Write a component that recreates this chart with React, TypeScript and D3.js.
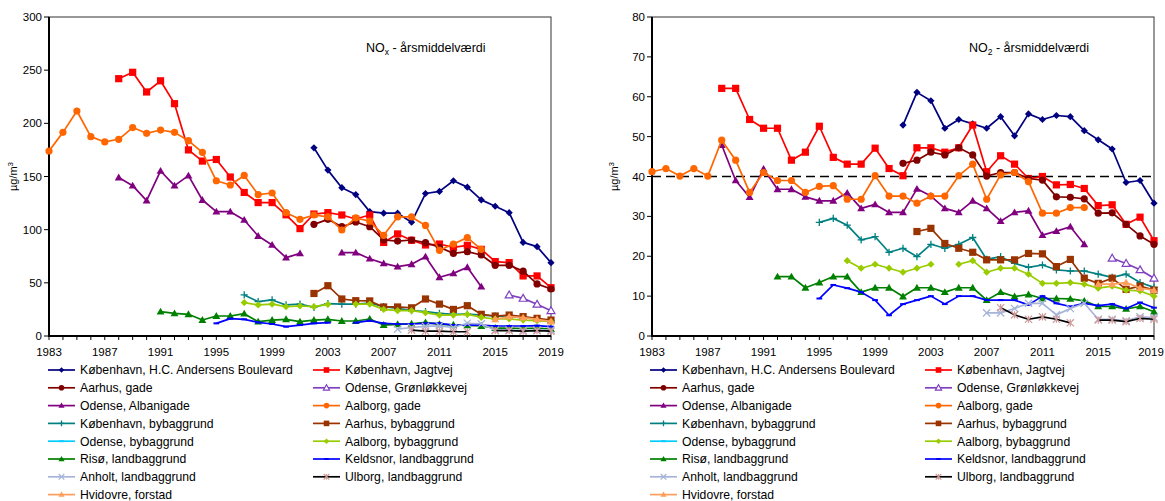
import React from 'react';
import * as d3 from 'd3';

// series (order = drawing order = legend order, row by row)
const seriesNames = [
  'København, H.C. Andersens Boulevard',
  'København, Jagtvej',
  'Aarhus, gade',
  'Odense, Grønløkkevej',
  'Odense, Albanigade',
  'Aalborg, gade',
  'København, bybaggrund',
  'Aarhus, bybaggrund',
  'Odense, bybaggrund',
  'Aalborg, bybaggrund',
  'Risø, landbaggrund',
  'Keldsnor, landbaggrund',
  'Anholt, landbaggrund',
  'Ulborg, landbaggrund',
  'Hvidovre, forstad',
];
const lineColors = ['#000080', '#FF0000', '#800000', '#7F3FBF', '#800080', '#FF6600', '#008080', '#993300', '#00CCFF', '#99CC00', '#008000', '#0000FF', '#A6B4D8', '#000000', '#FF9E5A'];
const markerColors = ['#000080', '#FF0000', '#800000', '#7F3FBF', '#800080', '#FF6600', '#008080', '#993300', '#00CCFF', '#99CC00', '#008000', '#0000FF', '#A6B4D8', '#D09A9A', '#FF9E5A'];
const markerShapes = ['diamond', 'square', 'circle', 'triangleOpen', 'triangle', 'circle', 'plus', 'square', 'dash', 'diamond', 'triangle', 'dash', 'times', 'star', 'triangle'];

const xTickLabels = ['1983', '1987', '1991', '1995', '1999', '2003', '2007', '2011', '2015', '2019'];
const noxTicks = [0, 50, 100, 150, 200, 250, 300];
const no2Ticks = [0, 10, 20, 30, 40, 50, 60, 70, 80];

// NOx, first year of each series
const noxStart = [2002, 1988, 2002, 2016, 1988, 1983, 1997, 2002, 2019, 1997, 1991, 1995, 2008, 2009, 2015];
const noxHCAB = [177, 156, 139.5, 133, 117, 115.5, 115.5, 107, 134, 136, 146, 140, 128, 122, 116, 88, 84, 69];
const noxJagtvej = [242, 248, 229.5, 240, 218.5, 175, 164.5, 166, 149.5, 135, 125.5, 125.5, 114, 101, 114.7, 116, 113.8, 110, 113.8, 88, 96, 90, 85.6, 86.5, 83.4, 85.3, 81.5, 70, 69, 56.5, 56.5, 45.4];
const noxAarhusGade = [105, 109.7, 102.8, 107.2, 102.8, 90.3, 89.3, 90.3, 87.8, 83.4, 77.7, 79.3, 76.2, 66.5, 66.5, 61, 49, 44.2];
const noxGronlokke = [38.6, 35.4, 29.8, 23.8];
const noxAlbani = [149, 141.4, 127.3, 155.2, 141.4, 150.8, 127.9, 116.9, 116.9, 109.1, 94, 85.6, 73.7, 77.7, null, null, 78.4, 78.4, 72.7, 68.3, 65.2, 67.4, 74.6, 55.2, 58.9, 64.6, 46.4];
const noxAalborgGade = [174, 191.5, 211.6, 187.5, 182.5, 185, 196, 190.6, 193.7, 191.5, 183.7, 172.7, 146, 142, 151, 133, 134.5, 116, 109.7, 113.8, 112, 99.7, 111, 108, 94.7, 112, 112, 104, 80.6, 86.5, 92.5, 81.5];
const noxKbhBy = [38.6, 32.3, 33.9, 29.2, 30, 27, 30.5, 30, 30, 31, 27.6, 26, 23.8, 22.9, 21.3, 20.4, 20.7, 19.7, 18.8, 18.2, 17.2, 16, 14.4];
const noxAarhusBy = [40, 47.3, 34.8, 33.2, 33, 27.3, 27.3, 26.5, 34.8, 30, 25, 28.5, 20.4, 18.8, 19.7, 18.2, 16.6, 15];
const noxOdenseBy: (number | null)[] = [];
const noxAalborgBy = [31.4, 29.2, 30, 27.6, 28.2, 27.6, 29.8, null, 30, 30, 25, 23.8, 23.8, 21.9, 19.7, 19.7, 20.4, 17.6, 16, 16, 15, 14.4, 13.5];
const noxRiso = [22.9, 21.3, 20.4, 15, 18.8, 18.8, 21, 13.5, 15, 15.7, 13.5, 15, 15.7, 14.1, 14.1, 16, 10.3, 11, 11.5, 12.8, 11, 10.5, 10, 9.4, 7.5, 7.5, 7, 7.5, 6.5];
const noxKeldsnor = [11.9, 16.3, 15.7, 12.8, 11.3, 8.8, 10.3, 11.9, 12.5, null, 12.5, 14.4, 11.9, 11.3, 11.3, 11.9, 11.9, 10.3, 10.3, 10.3, 9.4, 9.4, 9.4, 9.7, 8.8];
const noxAnholt = [6.5, 8, 9, 9.5, 8, 12, 11.5, 5.5, 5.5, 5, 5.5, 5.5];
const noxUlborg = [5.5, 4.5, 4.5, 4, 4, null, 5, 5, 4.5, 5, 4.5];
const noxHvidovre = [15.7, 18.2, 17.2, 15.7, 13.5];

// NO2, first year of each series
const no2Start = [2001, 1988, 2001, 2016, 1988, 1983, 1995, 2002, 2019, 1997, 1992, 1995, 2007, 2008, 2015];
const no2HCAB = [52.9, 61.1, 59, 52.1, 54.3, 53.2, 52.1, 55, 50.2, 55.7, 54.3, 55.3, 55, 51.5, 49.2, 46.9, 38.5, 39, 33.3];
const no2Jagtvej = [62.1, 62.1, 54.3, 52.1, 52.1, 44.1, 46.1, 52.6, 44.8, 43.1, 43.1, 47.1, 42, 40.2, 47.2, 47.2, 46.1, 47.2, 52.9, 41.2, 45.2, 43.1, 39.5, 40, 37.9, 38, 37, 32.7, 32.9, 28, 29.8, 23.9];
const no2AarhusGade = [43.3, 44.1, 46.1, 45.4, 47.2, 45.4, 40.1, 41, 41, 39.5, 39.1, 34.9, 34.8, 34.4, 30.8, 30.9, 28, 25.1, 23];
const no2Gronlokke = [19.5, 18.2, 16.6, 14.5];
const no2Albani = [47.9, 39, 34.8, 41.9, 36.8, 36.8, 34.9, 33.9, 33.9, 35.9, 32, 33, 31, 31, 36.9, 35.1, 32, 31, 33.9, 32, 28.8, 31, 31.4, 25.3, 26.3, 27.4, 23];
const no2AalborgGade = [41.2, 42, 40.1, 42, 40.1, 49.1, 44.1, 36, 41, 39, 39, 36, 37.5, 37.7, 34.3, 34.3, 40.2, 35.1, 35.1, 33.3, 35.1, 35.1, 40.2, 43.1, 34.3, 40.4, 41, 38.7, 30.8, 30.8, 32.2, 32.2];
const no2KbhBy = [28.5, 29.5, 27.8, 24.1, 24.9, 21, 22, 19.9, 23, 22, 23, 24.7, 19.2, 19.9, 18.2, 17.2, 17.8, 16.6, 16.3, 16.3, 15.5, 14.7, 15.5, 13.4, 12.2];
const no2AarhusBy = [26.2, 27, 23.2, 22, 21, 19.1, 19.1, 19.1, 20.7, 20.6, 17.4, 19.2, 14.5, 13.2, 14.5, 11.7, 12.5, 11.5];
const no2OdenseBy: (number | null)[] = [];
const no2AalborgBy = [18.9, 17, 18, 17, 16, 17, 18, null, 18, 18.9, 16, 17, 17, 15.5, 13.2, 13.2, 13.4, 13, 12, 12.5, 11.5, 11.3, 10];
const no2Riso = [14.9, 14.9, 12.1, 13.4, 14.9, 14.9, 11, 12.1, 12.1, 9.9, 12.1, 12.1, 11, 12.1, 12.1, 9, 11, 9.9, 10.4, 9.4, 9.4, 9.3, 8.8, 7.4, 7.4, 6.8, 7.4, 6.1];
const no2Keldsnor = [9.4, 12.8, 12, 11, 9, 5.2, 8, 9, 10, 8, 10, 10, 9, 9, 9, 7.8, 10, 8.2, 7.4, 8.2, 7.6, 8, 6.9, 8.4, 7.1];
const no2Anholt = [5.8, 5.8, 6.9, 8.2, 8.2, 5.3, 6.9, 8.2, 4.2, 4.2, 3.8, 4.8, 4.6];
const no2Ulborg = [7.1, 5.3, 4.2, 4.8, 4.2, 3.3, null, 4, 4, 3.6, 4.4, 4.2];
const no2Hvidovre = [13, 13, 13.4, 12, 11.5];

const noxValues = [noxHCAB, noxJagtvej, noxAarhusGade, noxGronlokke, noxAlbani, noxAalborgGade, noxKbhBy, noxAarhusBy, noxOdenseBy, noxAalborgBy, noxRiso, noxKeldsnor, noxAnholt, noxUlborg, noxHvidovre];
const no2Values = [no2HCAB, no2Jagtvej, no2AarhusGade, no2Gronlokke, no2Albani, no2AalborgGade, no2KbhBy, no2AarhusBy, no2OdenseBy, no2AalborgBy, no2Riso, no2Keldsnor, no2Anholt, no2Ulborg, no2Hvidovre];

const FONT = 'Liberation Sans, Arial, sans-serif';
const WIDTH = 1165;

type Pt = { year: number; v: number | null };

function toPoints(start: number, values: (number | null)[]): Pt[] {
  return values.map((v, i) => ({ year: start + i, v }));
}

// marker drawn at 0,0, s = half size
function Marker({ shape, color, s }: { shape: string; color: string; s: number }) {
  if (shape === 'diamond') return <path d={`M0,${-s}L${s},0L0,${s}L${-s},0Z`} fill={color} />;
  if (shape === 'square') return <rect x={-s} y={-s} width={2 * s} height={2 * s} fill={color} />;
  if (shape === 'circle') return <circle r={s} fill={color} />;
  if (shape === 'triangle')
    return <path d={`M0,${-s * 1.1}L${s * 1.1},${s * 0.8}L${-s * 1.1},${s * 0.8}Z`} fill={color} />;
  if (shape === 'triangleOpen')
    return <path d={`M0,${-s * 1.1}L${s * 1.1},${s * 0.8}L${-s * 1.1},${s * 0.8}Z`} fill="#fff" stroke={color} strokeWidth={1.2} />;
  if (shape === 'plus')
    return <path d={`M${-s},0H${s}M0,${-s}V${s}`} stroke={color} strokeWidth={1.3} />;
  if (shape === 'times')
    return <path d={`M${-s},${-s}L${s},${s}M${-s},${s}L${s},${-s}`} stroke={color} strokeWidth={1.3} />;
  if (shape === 'star')
    return <path d={`M${-s},${-s}L${s},${s}M${-s},${s}L${s},${-s}M0,${-s}V${s}`} stroke={color} strokeWidth={1.2} />;
  if (shape === 'dash') return <path d={`M${-s * 0.8},0H${s * 0.8}`} stroke={color} strokeWidth={2} />;
  return null;
}

type PanelProps = {
  left: number;
  right: number;
  yMax: number;
  yTicks: number[];
  starts: number[];
  values: (number | null)[][];
  sub: string;
  titleX: number;
  unitX: number;
  legendCols: [number, number];
  limit?: number;
};

function Panel({ left, right, yMax, yTicks, starts, values, sub, titleX, unitX, legendCols, limit }: PanelProps) {
  const top = 17;
  const bottom = 336;
  const x = d3.scaleLinear().domain([1983, 2019]).range([left, right]);
  const y = d3.scaleLinear().domain([0, yMax]).range([bottom, top]);
  const line = d3
    .line<Pt>()
    .defined((d) => d.v != null)
    .x((d) => x(d.year))
    .y((d) => y(d.v as number));
  const allYears = d3.range(1983, 2020);

  return (
    <g fontFamily={FONT}>
      {/* plot frame */}
      <rect x={left} y={top} width={right - left} height={bottom - top} fill="none" stroke="#333" strokeWidth={1} />
      <line x1={left} x2={left} y1={top} y2={bottom + 1} stroke="#000" strokeWidth={2} />
      <line x1={left - 1} x2={right} y1={bottom} y2={bottom} stroke="#000" strokeWidth={2} />

      {/* y ticks */}
      {yTicks.map((t) => (
        <g key={t}>
          <line x1={left - 5} x2={left} y1={y(t)} y2={y(t)} stroke="#000" />
          <text x={left - 7} y={y(t) + 4} fontSize={11.5} textAnchor="end" fill="#000">
            {t}
          </text>
        </g>
      ))}
      {/* x ticks */}
      {allYears.map((yr) => (
        <line key={yr} x1={x(yr)} x2={x(yr)} y1={bottom} y2={bottom + 4} stroke="#000" />
      ))}
      {xTickLabels.map((l) => (
        <text key={l} x={Math.min(x(+l), WIDTH - 14)} y={bottom + 20} fontSize={11.5} textAnchor="middle" fill="#000">
          {l}
        </text>
      ))}

      {/* unit */}
      <text transform={`translate(${unitX},${(top + bottom) / 2}) rotate(-90)`} fontSize={11} textAnchor="middle" fill="#000">
        µg/m<tspan fontSize={8} dy={-4}>3</tspan>
      </text>

      {/* title */}
      <text x={titleX} y={52} fontSize={12.5} fill="#000">
        NO<tspan fontSize={8.5} dy={3}>{sub}</tspan>
        <tspan dy={-3}> - årsmiddelværdi</tspan>
      </text>

      {limit != null && (
        <line x1={left} x2={right} y1={y(limit)} y2={y(limit)} stroke="#000" strokeWidth={1.6} strokeDasharray="9,5" />
      )}

      {/* series */}
      {values.map((vals, i) => {
        const pts = toPoints(starts[i], vals);
        return (
          <g key={i}>
            <path d={line(pts) || ''} fill="none" stroke={lineColors[i]} strokeWidth={1.7} strokeLinejoin="round" />
            {pts
              .filter((p) => p.v != null)
              .map((p) => (
                <g key={p.year} transform={`translate(${x(p.year)},${y(p.v as number)})`}>
                  <Marker shape={markerShapes[i]} color={markerColors[i]} s={3.6} />
                </g>
              ))}
          </g>
        );
      })}

      {/* legend */}
      {seriesNames.map((name, i) => {
        const col = i % 2;
        const row = Math.floor(i / 2);
        const lx = legendCols[col];
        const ly = 370 + row * 17.8;
        return (
          <g key={name}>
            <line x1={lx} x2={lx + 27} y1={ly} y2={ly} stroke={lineColors[i]} strokeWidth={1.7} />
            <g transform={`translate(${lx + 13.5},${ly})`}>
              <Marker shape={markerShapes[i]} color={markerColors[i]} s={2.8} />
            </g>
            <text x={lx + 32} y={ly + 4.3} fontSize={12.2} fill="#000">
              {name}
            </text>
          </g>
        );
      })}
    </g>
  );
}

export default function App() {
  return (
    <svg width={WIDTH} height={501} style={{ position: 'absolute', left: 0, top: 0, background: '#fff' }}>
      <rect width={WIDTH} height={501} fill="#fff" />
      <Panel
        left={49}
        right={551}
        yMax={300}
        yTicks={noxTicks}
        starts={noxStart}
        values={noxValues}
        sub="x"
        titleX={366}
        unitX={17}
        legendCols={[48, 313]}
      />
      <Panel
        left={652}
        right={1154}
        yMax={80}
        yTicks={no2Ticks}
        starts={no2Start}
        values={no2Values}
        sub="2"
        titleX={969}
        unitX={618}
        legendCols={[650, 925]}
        limit={40}
      />
    </svg>
  );
}
